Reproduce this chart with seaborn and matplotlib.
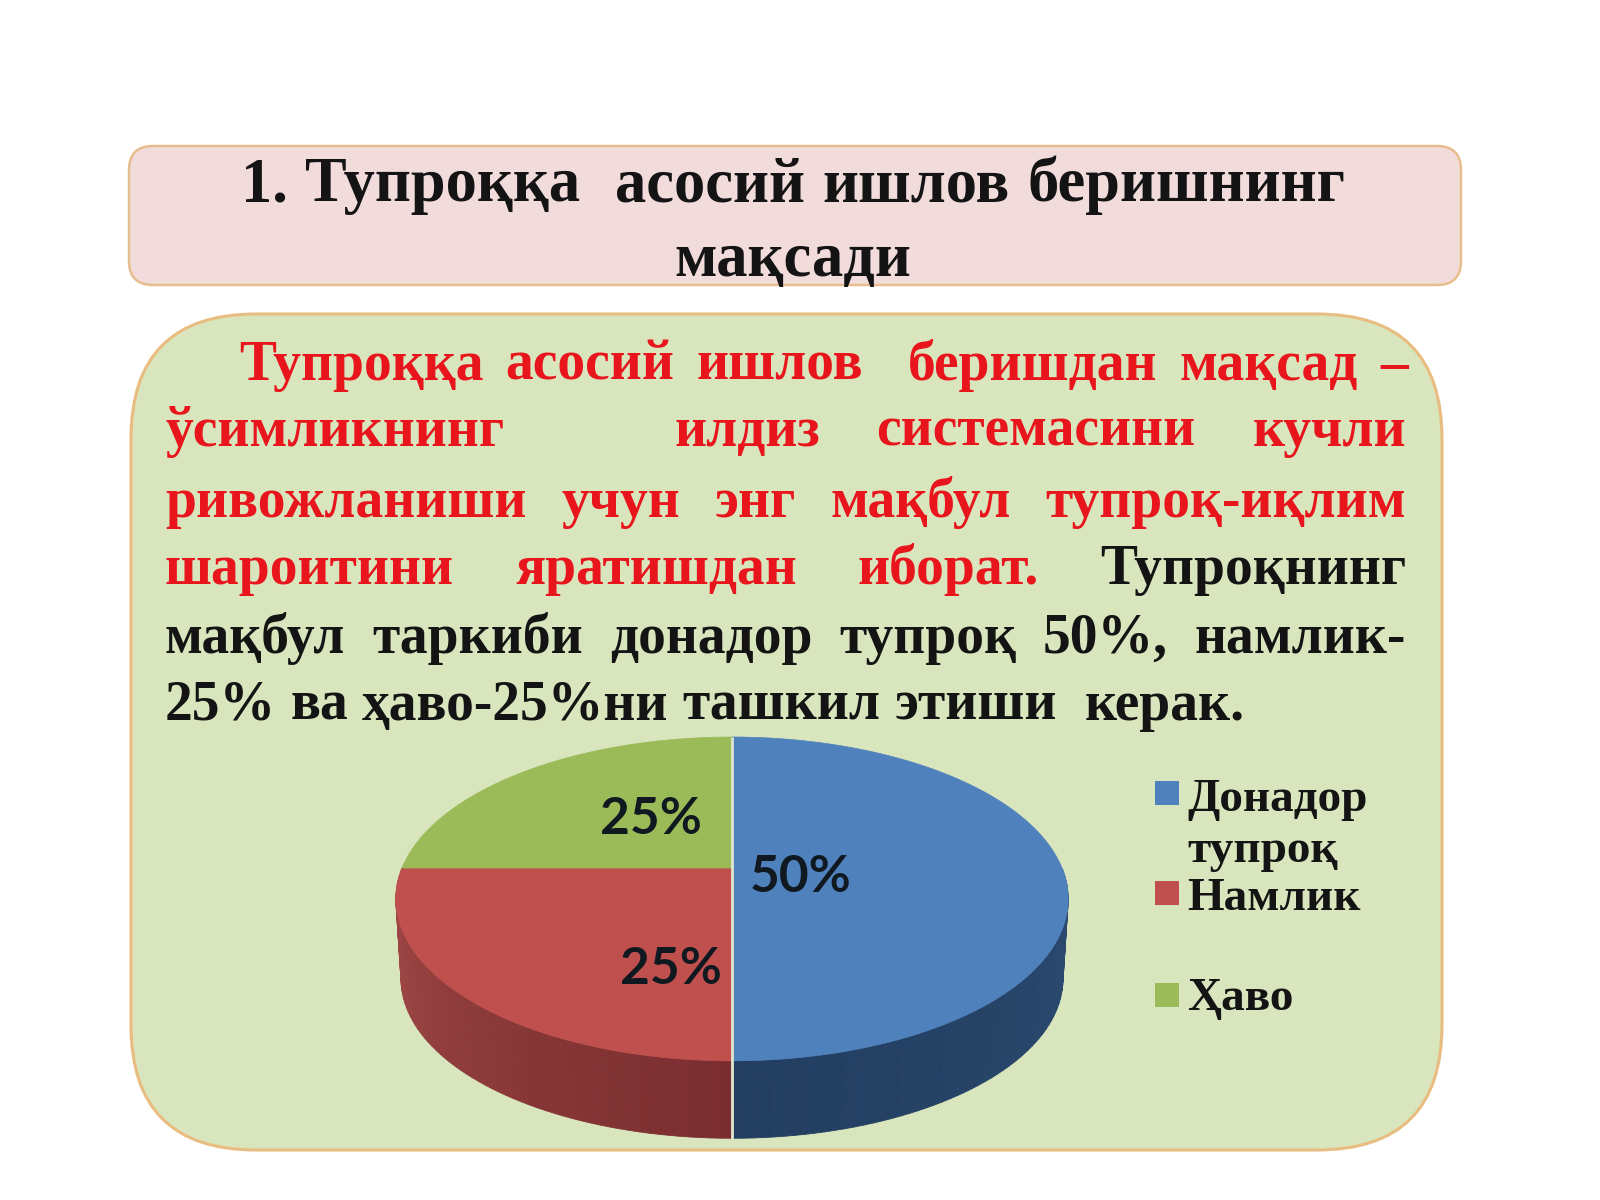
import numpy as np
import matplotlib
matplotlib.use("Agg")
import matplotlib.pyplot as plt
from matplotlib.patches import FancyBboxPatch, Rectangle
import seaborn as sns

# Soil composition
categories = ["Донадор\nтупроқ", "Намлик", "Ҳаво"]
shares = [50, 25, 25]
top_colors = ["#4f81bd", "#c0504d", "#9bbb59"]
side_stops = [
    ["#223e61", "#2b4a70", "#1f3a59"],
    ["#a44b4a", "#8e3b3b", "#7a2d2f"],
    ["#6f8a3f", "#6f8a3f", "#6f8a3f"],
]

heading_lines = ["1. Тупроққа  асосий ишлов беришнинг", "мақсади"]
body_lines = [
    "Тупроққа асосий ишлов  беришдан мақсад –",
    "ўсимликнинг   илдиз системасини кучли",
    "ривожланиши учун энг мақбул тупроқ-иқлим",
    "шароитини яратишдан иборат. Тупроқнинг",
    "мақбул таркиби донадор тупроқ 50%, намлик-",
    "25% ва ҳаво-25%ни ташкил этиши  керак.",
]
red_word_counts = [6, 4, 5, 3, 0, 0]

sns.set_theme(style="white")
plt.rcParams["font.family"] = ["Liberation Serif", "DejaVu Serif"]

fig = plt.figure(figsize=(16, 12), dpi=100, facecolor="white")
ax = fig.add_axes([0, 0, 1, 1])
renderer = fig.canvas.get_renderer()

# Rounded panels
ax.add_patch(FancyBboxPatch((129 + 24, 146 + 24), 1332 - 48, 139 - 48,
                            boxstyle="round,pad=24,rounding_size=24",
                            fc="#f2dcdb", ec="#e7bd90", lw=1.8))
ax.add_patch(FancyBboxPatch((131 + 125, 314 + 125), 1311 - 250, 836 - 250,
                            boxstyle="round,pad=125,rounding_size=125",
                            fc="#d9e5bd", ec="#e9bd82", lw=2.2))


def place_words(line, left, right, baseline, size, red_count=0):
    """Set one justified line, spreading spare width over its word gaps."""
    tokens = line.split(" ")
    words, gaps, pending = [], [], 0
    for tok in tokens:
        if tok == "":
            pending += 1
            continue
        if words:
            gaps.append(1 + pending)
        words.append(tok)
        pending = 0
    artists = []
    for i, w in enumerate(words):
        color = "#e8151d" if i < red_count else "#141414"
        artists.append(ax.text(left, baseline, w, fontsize=size, fontweight="bold",
                               color=color, ha="left", va="baseline"))
    widths = [a.get_window_extent(renderer).width for a in artists]
    unit = (right - left - sum(widths)) / max(sum(gaps), 1)
    x = left
    for i, a in enumerate(artists):
        a.set_x(x)
        if i < len(gaps):
            x += widths[i] + gaps[i] * unit


# Heading
place_words(heading_lines[0], 241, 1345, 201, 45)
ax.text(793, 276, heading_lines[1], fontsize=45, fontweight="bold", color="#141414",
        ha="center", va="baseline")

# Body paragraph
body_spans = [(239, 1408), (165, 1406), (165, 1406), (165, 1406), (165, 1406), (165, 1245)]
body_baselines = [380, 446, 517, 584, 653, 720]
for line, (l, r), b, n in zip(body_lines, body_spans, body_baselines, red_word_counts):
    place_words(line, l, r, b, 40, n)

# Pie: angles come from the library, the disc is then tilted in perspective
CX, CY = 732, 868
TILT_K, TILT_A, TILT_B = 0.191, 156.0, 330.0
DEPTH, SHRINK = 81.0, 0.985

wedges, _ = ax.pie(shares, startangle=90, counterclock=False, colors=top_colors,
                   frame=True, radius=1, center=(0, 0))
spans = [(w.theta1, w.theta2) for w in wedges]
for w in wedges:
    w.remove()


def tilt(theta_deg, r=1.0):
    t = np.radians(theta_deg)
    x, y = r * np.cos(t), r * np.sin(t)
    w = 1 + TILT_K * y
    return CX + TILT_B * x / w, CY - TILT_A * y / w


# Side wall in thin shaded strips, front half of the rim only
for (th1, th2), stops in zip(spans, side_stops):
    n = max(int((th2 - th1) / 1.5), 2)
    edges = np.linspace(th1, th2, n + 1)
    shades = sns.blend_palette(stops, n)
    for a, b, c in zip(edges[:-1], edges[1:], shades):
        if np.sin(np.radians((a + b) / 2)) > 0:
            continue
        xa, ya = tilt(a)
        xb, yb = tilt(b)
        xa2, ya2 = tilt(a, SHRINK)
        xb2, yb2 = tilt(b, SHRINK)
        ax.fill([xa, xb, xb2, xa2], [ya, yb, yb2 + DEPTH, ya2 + DEPTH],
                color=c, lw=0.6, zorder=3)

# Top face
for (th1, th2), c in zip(spans, top_colors):
    arc = np.linspace(th1, th2, 160)
    xs, ys = tilt(arc)
    ax.fill(np.r_[CX, xs], np.r_[CY, ys], color=c, lw=0.5, zorder=4)

# Pale seam down the front and back of the largest slice
x0, y0 = tilt(spans[0][1])
x1, y1 = tilt(spans[0][0])
ax.plot([x0, x1, x1], [y0, y1, y1 + DEPTH * 0.97], color="#dfe8cf", lw=2.0, zorder=5,
        solid_capstyle="butt")

# Slice labels
label_anchors = [(801, 878), (671, 969), (651, 820)]
for v, (lx, ly) in zip(shares, label_anchors):
    ax.text(lx, ly, f"{v}%", family="Lato", fontweight="bold", fontsize=37,
            color="#101820", ha="center", va="center", zorder=6)

# Legend
legend_keys_y = [793, 893, 995]
legend_text_y = [811, 910, 1010]
for label, c, ky, ty in zip(categories, top_colors, legend_keys_y, legend_text_y):
    ax.add_patch(Rectangle((1155, ky - 12), 24, 24, fc=c, ec="none"))
    parts = label.split("\n")
    for i, part in enumerate(parts):
        ax.text(1187, ty + i * 51, part, fontsize=34, fontweight="bold", color="#141414",
                ha="left", va="baseline")

ax.set_aspect("auto")
ax.set_xlim(0, 1600)
ax.set_ylim(1200, 0)
ax.axis("off")

fig.savefig("out.png", dpi=100, facecolor="white")
